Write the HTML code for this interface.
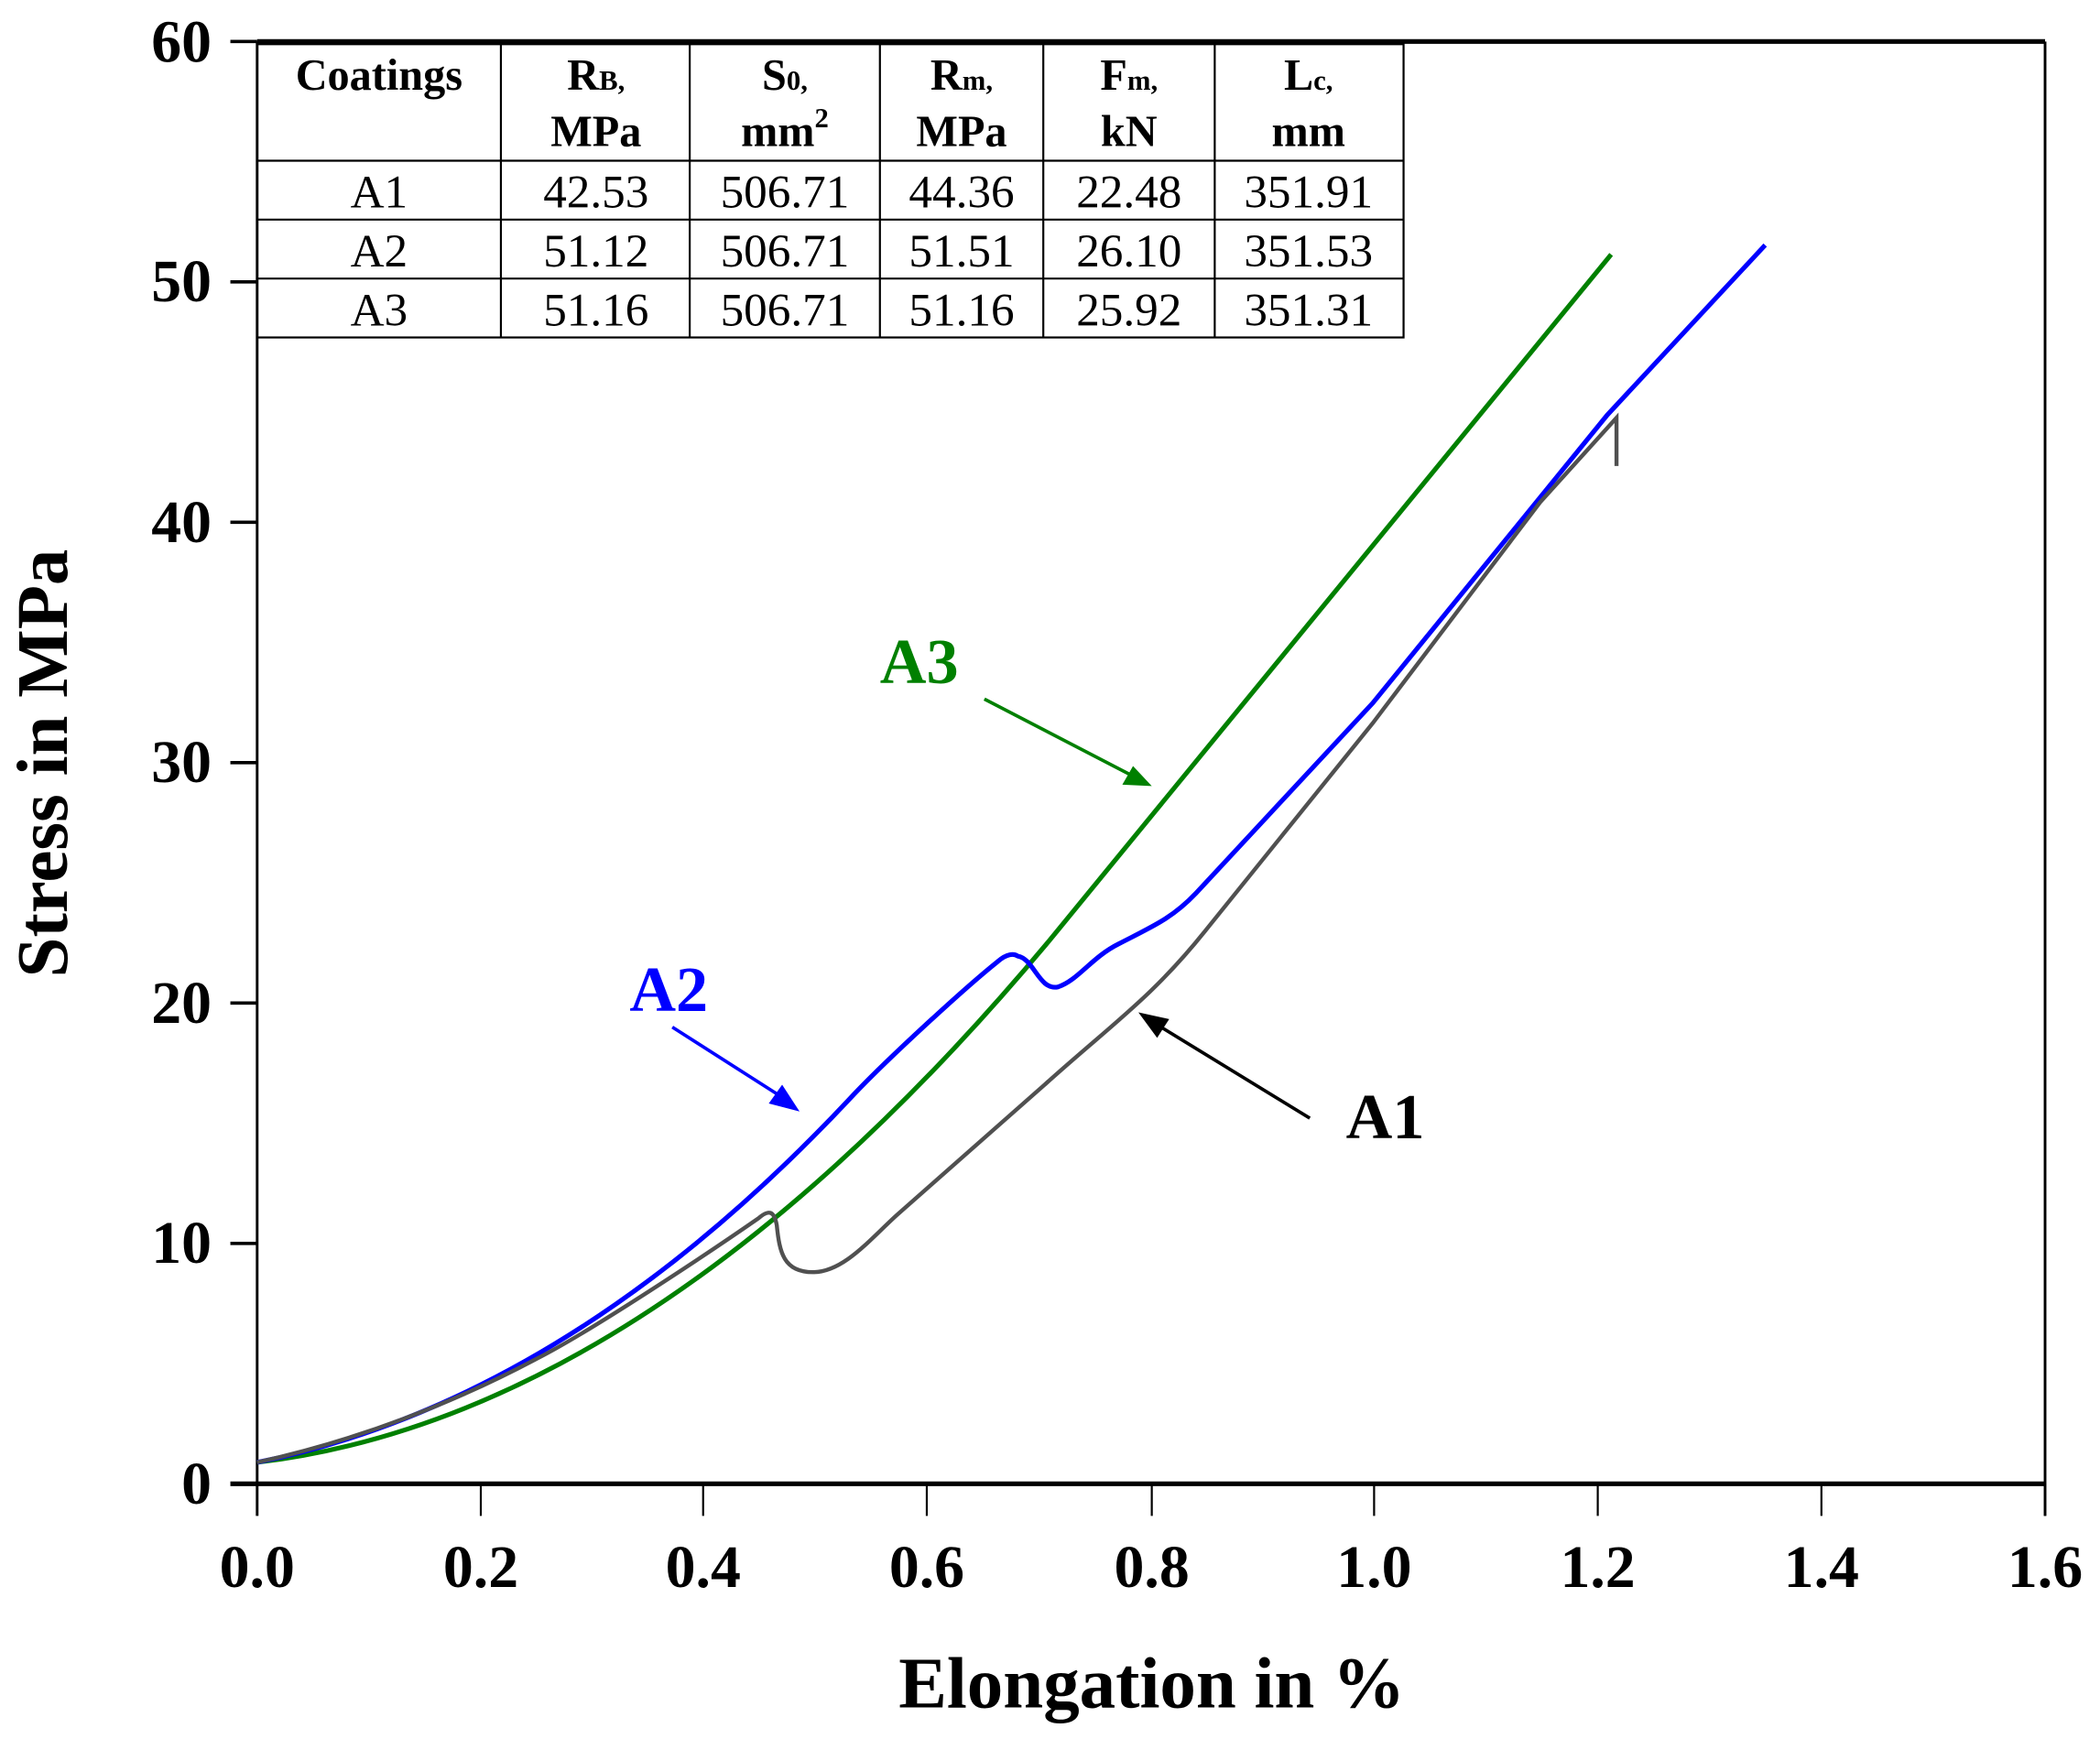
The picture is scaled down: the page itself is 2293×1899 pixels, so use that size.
<!DOCTYPE html>
<html><head><meta charset="utf-8"><style>
html,body{margin:0;padding:0;background:#fff}
svg{display:block}
text{font-family:"Liberation Serif",serif}
</style></head><body>
<svg width="2293" height="1899" viewBox="0 0 1568 1298.6" xmlns="http://www.w3.org/2000/svg">
<!-- axes -->
<line x1="192" y1="31" x2="1527" y2="31" stroke="#000" stroke-width="3.5"/>
<line x1="172" y1="1108" x2="1527" y2="1108" stroke="#000" stroke-width="3.5"/>
<line x1="192" y1="31" x2="192" y2="1132" stroke="#000" stroke-width="2"/>
<line x1="1527" y1="31" x2="1527" y2="1132" stroke="#000" stroke-width="2"/>
<g stroke="#000" stroke-width="2.5">
<line x1="172" y1="31" x2="192" y2="31"/><line x1="172" y1="210.5" x2="192" y2="210.5"/>
<line x1="172" y1="390" x2="192" y2="390"/><line x1="172" y1="569.5" x2="192" y2="569.5"/>
<line x1="172" y1="749" x2="192" y2="749"/><line x1="172" y1="928.5" x2="192" y2="928.5"/>
</g>
<g stroke="#000" stroke-width="1.5">
<line x1="359" y1="1108" x2="359" y2="1132"/><line x1="525" y1="1108" x2="525" y2="1132"/>
<line x1="692" y1="1108" x2="692" y2="1132"/><line x1="860" y1="1108" x2="860" y2="1132"/>
<line x1="1026" y1="1108" x2="1026" y2="1132"/><line x1="1193" y1="1108" x2="1193" y2="1132"/>
<line x1="1360" y1="1108" x2="1360" y2="1132"/><line x1="1527" y1="1108" x2="1527" y2="1132"/>
</g>
<g font-size="45" font-weight="bold" text-anchor="end">
<text x="158" y="46">60</text><text x="158" y="225">50</text><text x="158" y="405">40</text>
<text x="158" y="584">30</text><text x="158" y="764">20</text><text x="158" y="943">10</text>
<text x="158" y="1123">0</text>
</g>
<g font-size="45" font-weight="bold" text-anchor="middle">
<text x="192" y="1185">0.0</text><text x="359" y="1185">0.2</text><text x="525" y="1185">0.4</text>
<text x="692" y="1185">0.6</text><text x="860" y="1185">0.8</text><text x="1026" y="1185">1.0</text>
<text x="1193" y="1185">1.2</text><text x="1360" y="1185">1.4</text><text x="1527" y="1185">1.6</text>
</g>
<text x="860" y="1275" font-size="54" font-weight="bold" text-anchor="middle">Elongation in %</text>
<text transform="translate(50,570) rotate(-90)" font-size="54" font-weight="bold" text-anchor="middle">Stress in MPa</text>
<!-- table -->
<g stroke="#000" stroke-width="1.5" fill="none">
<rect x="192" y="33" width="856" height="219"/>
<line x1="192" y1="120" x2="1048" y2="120"/><line x1="192" y1="164" x2="1048" y2="164"/><line x1="192" y1="208" x2="1048" y2="208"/>
<line x1="374" y1="33" x2="374" y2="252"/><line x1="515" y1="33" x2="515" y2="252"/><line x1="657" y1="33" x2="657" y2="252"/>
<line x1="779" y1="33" x2="779" y2="252"/><line x1="907" y1="33" x2="907" y2="252"/>
</g>
<g font-size="33" font-weight="bold" text-anchor="middle">
<text x="283" y="67">Coatings</text>
<text x="445" y="67">R<tspan font-size="21">B,</tspan></text><text x="445" y="109">MPa</text>
<text x="586" y="67">S<tspan font-size="21">0,</tspan></text><text x="586" y="109">mm<tspan font-size="21" dy="-14">2</tspan></text>
<text x="718" y="67">R<tspan font-size="21">m,</tspan></text><text x="718" y="109">MPa</text>
<text x="843" y="67">F<tspan font-size="21">m,</tspan></text><text x="843" y="109">kN</text>
<text x="977" y="67">L<tspan font-size="21">c,</tspan></text><text x="977" y="109">mm</text>
</g>
<g font-size="35" text-anchor="middle">
<text x="283" y="155">A1</text><text x="445" y="155">42.53</text><text x="586" y="155">506.71</text><text x="718" y="155">44.36</text><text x="843" y="155">22.48</text><text x="977" y="155">351.91</text>
<text x="283" y="199">A2</text><text x="445" y="199">51.12</text><text x="586" y="199">506.71</text><text x="718" y="199">51.51</text><text x="843" y="199">26.10</text><text x="977" y="199">351.53</text>
<text x="283" y="243">A3</text><text x="445" y="243">51.16</text><text x="586" y="243">506.71</text><text x="718" y="243">51.16</text><text x="843" y="243">25.92</text><text x="977" y="243">351.31</text>
</g>
<!-- curves -->
<path d="M192,1092 Q487,1057 783,703 L1203,190" fill="none" stroke="#008000" stroke-width="3.5"/>
<path d="M192,1092 Q423,1046 634,821 C660,793 720,738 745,718 C752,712 757,712 760,714 C772,716 776,740 790,737 C805,732 815,715 835,705 C860,692 875,686 893,667 L1025,525 L1200,310 L1318,183" fill="none" stroke="#0000ff" stroke-width="3.5"/>
<path d="M192,1092 Q300,1068 400,1015 C440,995 530,935 566,910 C574,903 578,904 580,915 C582,935 585,950 607,950 C630,950 650,925 670,907 L780,810 C830,765 860,745 900,695 L1025,540 L1150,375 L1207,312 L1207,348" fill="none" stroke="#505050" stroke-width="3"/>
<!-- labels & arrows -->
<text x="657" y="510" font-size="48" font-weight="bold" fill="#008000">A3</text>
<line x1="735" y1="522" x2="845" y2="579" stroke="#008000" stroke-width="2.5"/>
<path d="M860,587 L838,586 L846,572 z" fill="#008000"/>
<text x="470" y="755" font-size="48" font-weight="bold" fill="#0000ff">A2</text>
<line x1="502" y1="767" x2="585" y2="820" stroke="#0000ff" stroke-width="2.5"/>
<path d="M597,830 L574,824 L584,810 z" fill="#0000ff"/>
<text x="1005" y="850" font-size="48" font-weight="bold" fill="#000">A1</text>
<line x1="978" y1="835" x2="862" y2="764" stroke="#000" stroke-width="2.5"/>
<path d="M850,756 L873,761 L864,775 z" fill="#000"/>
</svg>
</body></html>
